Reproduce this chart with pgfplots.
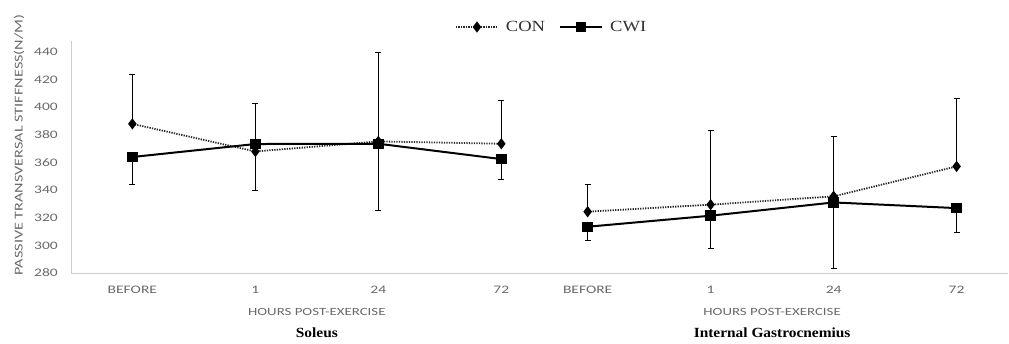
\documentclass[border=0pt]{standalone}
\usepackage{fontspec}
\usepackage{pgfplots}
\pgfplotsset{compat=1.18}
\setmainfont{Liberation Serif}
\newfontfamily\tickfont{Carlito}[FakeStretch=1.35]
\newfontfamily\legfont{Liberation Serif}[FakeStretch=1.2]
\newfontfamily\capfont{Liberation Serif}[FakeStretch=1.1]
\definecolor{tickgray}{RGB}{105,105,105}
\definecolor{legtext}{RGB}{50,50,50}
\definecolor{axgray}{RGB}{205,205,205}
\definecolor{congray}{RGB}{40,40,40}
\begin{document}
\begin{tikzpicture}
\begin{axis}[
  scale only axis, width=937pt, height=232pt,
  xmin=-0.499, xmax=7.12, ymin=280, ymax=448,
  axis x line*=bottom, axis y line*=left,
  axis line style={-, draw=axgray, line width=0.8pt},
  xtick={0,1,2,3,3.702,4.702,5.702,6.702},
  xticklabels={BEFORE,1,24,72,BEFORE,1,24,72},
  ytick={280,300,...,440},
  /pgf/number format/assume math mode=true,
  major tick length=0pt,
  tick label style={font=\tickfont\fontsize{11.5}{13}\selectfont, text=tickgray, inner sep=0pt},
  yticklabel style={xshift=-13pt},
  xticklabel style={yshift=-13pt},
  ylabel={PASSIVE TRANSVERSAL STIFFNESS(N/M)},
  every axis y label/.style={at={(axis description cs:0,0.5)}, xshift=-52pt, yshift=12pt, rotate=90, anchor=center,
    font=\tickfont\fontsize{12}{13}\selectfont, text=tickgray},
  legend columns=2,
  legend style={draw=none, fill=none, at={(axis description cs:0.513,1)}, anchor=center, yshift=14pt,
    font=\legfont\fontsize{15.5}{18}\selectfont, text=legtext,
    /tikz/every even column/.append style={column sep=12pt}},
  legend image code/.code={\draw[mark repeat=2,mark phase=2] plot coordinates {(0pt,0pt)(21pt,0pt)(42pt,0pt)};},
  error bars/error bar style={line width=0.6pt, black, solid},
  error bars/error mark options={rotate=90, mark size=3pt, line width=0.6pt, black, solid},
  clip=false,
]
% CON soleus
\addplot[congray, line width=1.8pt, dash pattern=on 1.3pt off 1.2pt, mark=diamond*, mark size=4.2pt, mark options={solid, fill=black, draw=black},
  error bars/.cd, y dir=plus, y explicit] coordinates {
  (0,388) +- (0,36)
  (1,368) +- (0,34.8)
  (2,375.3) +- (0,64.7)
  (3,373.6) +- (0,31.2)
};
\addlegendentry{\hspace{5pt}CON}
% CWI soleus
\addplot[black, line width=2pt, mark=square*, mark size=4.2pt, mark options={solid, fill=black},
  error bars/.cd, y dir=minus, y explicit] coordinates {
  (0,364) +- (0,20)
  (1,373.4) +- (0,33.4)
  (2,373.6) +- (0,48)
  (3,362.5) +- (0,14.7)
};
\addlegendentry{\hspace{5pt}CWI}
% CON gastrocnemius
\addplot[forget plot, congray, line width=1.8pt, dash pattern=on 1.3pt off 1.2pt, mark=diamond*, mark size=4.2pt, mark options={solid, fill=black, draw=black},
  error bars/.cd, y dir=plus, y explicit] coordinates {
  (3.702,324.4) +- (0,20)
  (4.702,329.5) +- (0,53.5)
  (5.702,335.5) +- (0,43.5)
  (6.702,357.2) +- (0,49.5)
};
% CWI gastrocnemius
\addplot[forget plot, black, line width=2pt, mark=square*, mark size=4.2pt, mark options={solid, fill=black},
  error bars/.cd, y dir=minus, y explicit] coordinates {
  (3.702,313.5) +- (0,10.1)
  (4.702,321.5) +- (0,23.5)
  (5.702,331.1) +- (0,47.8)
  (6.702,327) +- (0,17.3)
};
\node[font=\tickfont\fontsize{11}{13}\selectfont, text=tickgray, anchor=center] at (axis cs:1.5,280) [yshift=-39pt] {HOURS POST-EXERCISE};
\node[font=\tickfont\fontsize{11}{13}\selectfont, text=tickgray, anchor=center] at (axis cs:5.202,280) [yshift=-39pt] {HOURS POST-EXERCISE};
\node[font=\capfont\bfseries\fontsize{14}{16}\selectfont, anchor=center] at (axis cs:1.5,280) [yshift=-60pt] {Soleus};
\node[font=\capfont\bfseries\fontsize{14}{16}\selectfont, anchor=center] at (axis cs:5.202,280) [yshift=-60pt] {Internal Gastrocnemius};
\end{axis}
\path (current axis.south west) ++(-71pt,-70.7pt) rectangle ([shift={(1pt,41pt)}]current axis.north east);
\end{tikzpicture}
\end{document}
